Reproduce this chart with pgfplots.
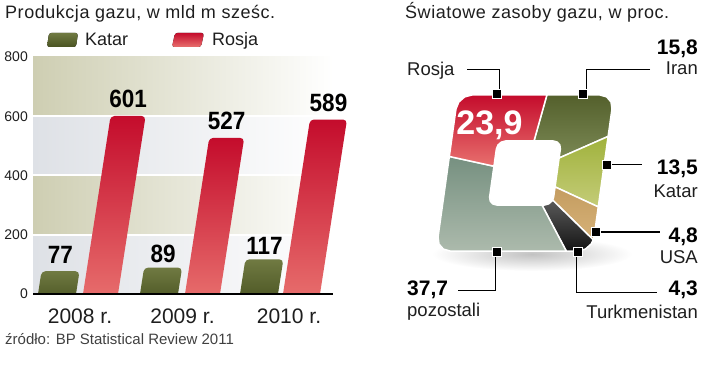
\documentclass[border=0pt]{standalone}
\usepackage{fontspec}
\setmainfont{Liberation Sans}
\newfontfamily\numf[FakeStretch=0.9]{Liberation Sans}
\usepackage{pgfplots}
\pgfplotsset{compat=1.18}
\definecolor{txt}{RGB}{30,30,30}
\definecolor{khaki}{RGB}{206,206,178}
\definecolor{greyb}{RGB}{222,225,230}
\definecolor{rosjaT}{RGB}{196,12,44}
\definecolor{rosjaB}{RGB}{232,112,110}
\definecolor{katarT}{RGB}{112,122,66}
\definecolor{katarB}{RGB}{74,84,34}
\definecolor{iranT}{RGB}{84,96,44}
\definecolor{iranB}{RGB}{122,136,84}
\definecolor{qatT}{RGB}{160,178,60}
\definecolor{qatB}{RGB}{196,204,120}
\definecolor{usaT}{RGB}{196,156,96}
\definecolor{usaB}{RGB}{214,178,120}
\definecolor{turT}{RGB}{90,90,90}
\definecolor{turB}{RGB}{20,20,20}
\definecolor{pozT}{RGB}{118,144,128}
\definecolor{pozB}{RGB}{172,186,172}
\begin{document}
\begin{tikzpicture}
\path (0pt,0pt) rectangle (720pt,-382pt);
% titles
\node[anchor=base west, inner sep=0pt, text=txt, font=\fontsize{18}{18}\selectfont\addfontfeature{LetterSpace=3}] at (5pt,-19pt) {Produkcja gazu, w mld m sześc.};
\node[anchor=base west, inner sep=0pt, text=txt, font=\fontsize{18}{18}\selectfont\addfontfeature{LetterSpace=3}] at (405pt,-19pt) {Światowe zasoby gazu, w proc.};
% legend
\fill[rounded corners=2.5pt, top color=katarT, bottom color=katarB] (47pt,-47pt) -- (49pt,-33pt) -- (78pt,-33pt) -- (76pt,-47pt) -- cycle;
\node[anchor=base west, inner sep=0pt, text=txt, font=\fontsize{18}{18}\selectfont] at (85pt,-46pt) {Katar};
\fill[rounded corners=2.5pt, top color=rosjaT, bottom color=rosjaB] (172pt,-47pt) -- (175pt,-33pt) -- (204pt,-33pt) -- (201pt,-47pt) -- cycle;
\node[anchor=base west, inner sep=0pt, text=txt, font=\fontsize{18}{18}\selectfont] at (212pt,-46pt) {Rosja};
% bar chart
\begin{axis}[
  at={(33pt,-294pt)}, anchor=south west,
  x=1pt, y=0.29625pt,
  xmin=0, xmax=320, ymin=0, ymax=800,
  axis line style={draw=none},
  major tick length=0pt,
  ytick={0,200,400,600,800},
  xtick={47,149.5,256},
  xticklabels={2008 r.,2009 r.,2010 r.},
  /pgf/number format/assume math mode=true,
  yticklabel style={font=\fontsize{14}{14}\selectfont, text=txt, anchor=east, inner sep=0pt, xshift=-5pt},
  xticklabel style={font=\fontsize{21}{21}\selectfont, text=txt, anchor=base, inner sep=0pt, yshift=-29pt},
  clip=true,
]
\fill[left color=khaki, right color=white] (axis cs:0,600) rectangle (axis cs:300,800);
\fill[left color=greyb, right color=white] (axis cs:0,400) rectangle (axis cs:300,600);
\fill[left color=khaki, right color=white] (axis cs:0,200) rectangle (axis cs:300,400);
\fill[left color=greyb, right color=white] (axis cs:0,0) rectangle (axis cs:300,200);
\draw[white, line width=2pt] (axis cs:0,200) -- (axis cs:300,200);
\draw[white, line width=2pt] (axis cs:0,400) -- (axis cs:300,400);
\draw[white, line width=2pt] (axis cs:0,600) -- (axis cs:300,600);
% Katar
\addplot[draw=none, rounded corners=4pt, top color=katarT, bottom color=katarB] coordinates {(3.62,-30) (8.53,77) (46.53,77) (41.62,-30)} -- cycle;
\addplot[draw=none, rounded corners=4pt, top color=katarT, bottom color=katarB] coordinates {(105.62,-30) (111.09,89) (149.09,89) (143.62,-30)} -- cycle;
\addplot[draw=none, rounded corners=4pt, top color=katarT, bottom color=katarB] coordinates {(205.62,-30) (212.37,117) (250.37,117) (243.62,-30)} -- cycle;
% Rosja
\addplot[draw=none, rounded corners=4pt, top color=rosjaT, bottom color=rosjaB] coordinates {(48.62,-30) (77.6,601) (112.6,601) (83.62,-30)} -- cycle;
\addplot[draw=none, rounded corners=4pt, top color=rosjaT, bottom color=rosjaB] coordinates {(150.62,-30) (176.2,527) (211.2,527) (185.62,-30)} -- cycle;
\addplot[draw=none, rounded corners=4pt, top color=rosjaT, bottom color=rosjaB] coordinates {(248.62,-30) (277.0,589) (314.0,589) (285.62,-30)} -- cycle;
\draw[black, line width=1.2pt] (axis cs:0,0) -- (axis cs:300,0);
\node[anchor=south, inner sep=0pt, yshift=7pt, text=black, font=\numf\bfseries\fontsize{25}{25}\selectfont] at (axis cs:27.5,77) {77};
\node[anchor=south, inner sep=0pt, yshift=5pt, text=black, font=\numf\bfseries\fontsize{25}{25}\selectfont] at (axis cs:130.1,89) {89};
\node[anchor=south, inner sep=0pt, yshift=5pt, text=black, font=\numf\bfseries\fontsize{25}{25}\selectfont] at (axis cs:231.4,117) {117};
\node[anchor=south, inner sep=0pt, yshift=8pt, text=black, font=\numf\bfseries\fontsize{25}{25}\selectfont] at (axis cs:95.1,601) {601};
\node[anchor=south, inner sep=0pt, yshift=8pt, text=black, font=\numf\bfseries\fontsize{25}{25}\selectfont] at (axis cs:193.7,527) {527};
\node[anchor=south, inner sep=0pt, yshift=8pt, text=black, font=\numf\bfseries\fontsize{25}{25}\selectfont] at (axis cs:295.5,589) {589};
\end{axis}
\node[anchor=base west, inner sep=0pt, text=black!75, font=\fontsize{15}{15}\selectfont] at (5pt,-344pt) {źródło: BP Statistical Review 2011};
% pie shadow
\shade[inner color=black!24, outer color=white] (532pt,-254pt) ellipse (100pt and 17pt);
% pie
\begin{axis}[
  at={(525pt,-173pt)}, anchor=center,
  x=1pt, y=1pt, xmin=-100, xmax=100, ymin=-100, ymax=100,
  hide axis, clip=false,
  sl/.style={draw=white, line width=1.5pt, line join=round},
]
% Iran 15,8
\addplot[sl, top color=iranT, bottom color=iranB] coordinates {(21.88,78) (74.92,78) (81.65,76.1) (86.04,71) (86.96,64) (83.12,36.57) (34.1,15.0) (35.36,24) (34.82,28) (32.33,30.9) (28.48,32) (8.98,32)} -- cycle;
% Katar 13,5
\addplot[sl, top color=qatT, bottom color=qatB] coordinates {(83.12,36.57) (73.26,-33.88) (30.05,-13.9) (34.1,15.0)} -- cycle;
% USA 4,8
\addplot[sl, top color=usaT, bottom color=usaB] coordinates {(73.26,-33.88) (69.04,-64) (68.27,-66.88) (27.62,-27.05) (28.64,-24) (30.05,-13.9)} -- cycle;
% Turkmenistan 4,3
\addplot[sl, top color=turT, bottom color=turB] coordinates {(68.27,-66.88) (66.16,-71) (60.35,-76.1) (53.08,-78) (41.22,-78) (16.91,-32) (19.52,-32) (23.67,-30.9) (26.98,-28) (27.62,-27.05)} -- cycle;
% pozostali 37,7
\addplot[sl, top color=pozT, bottom color=pozB] coordinates {(41.22,-78) (-74.92,-78) (-81.65,-76.1) (-86.04,-71) (-86.96,-64) (-75.69,16.53) (-31.05,6.78) (-35.36,-24) (-34.82,-28) (-32.33,-30.9) (-28.48,-32) (16.91,-32)} -- cycle;
% Rosja 23,9
\addplot[sl, top color=rosjaT, bottom color=rosjaB] coordinates {(-75.69,16.53) (-69.04,64) (-66.16,71) (-60.35,76.1) (-53.08,78) (21.88,78) (8.98,32) (-19.52,32) (-23.67,30.9) (-26.98,28) (-28.64,24) (-31.05,6.78)} -- cycle;
\end{axis}
% connectors
\draw[line width=1pt] (467pt,-70pt) -- (499pt,-70pt) -- (499pt,-90pt);
\draw[line width=1pt] (650pt,-70pt) -- (586pt,-70pt) -- (586pt,-90pt);
\draw[line width=1pt] (611pt,-165pt) -- (642pt,-165pt);
\draw[line width=1pt] (600pt,-232pt) -- (660pt,-232pt);
\draw[line width=1pt] (576pt,-256pt) -- (576pt,-292pt) -- (657pt,-292pt);
\draw[line width=1pt] (495pt,-256pt) -- (495pt,-290pt) -- (458pt,-290pt);
\foreach \p in {(497pt,-94pt),(583pt,-94pt),(607pt,-165pt),(596pt,-232pt),(578pt,-252pt),(497pt,-252pt)}
  \node[draw=white, fill=black, line width=1pt, minimum size=8.5pt, inner sep=0pt] at \p {};
% pie labels
\node[anchor=base west, inner sep=0pt, text=txt, font=\fontsize{18.5}{18.5}\selectfont] at (407pt,-76pt) {Rosja};
\node[anchor=base, inner sep=0pt, text=white, font=\bfseries\fontsize{34}{34}\selectfont] at (489.5pt,-135pt) {23,9};
\node[anchor=base east, inner sep=0pt, text=black, font=\bfseries\fontsize{21}{21}\selectfont] at (698pt,-55pt) {15,8};
\node[anchor=base east, inner sep=0pt, text=txt, font=\fontsize{18.5}{18.5}\selectfont] at (698pt,-75pt) {Iran};
\node[anchor=base east, inner sep=0pt, text=black, font=\bfseries\fontsize{21}{21}\selectfont] at (698pt,-175pt) {13,5};
\node[anchor=base east, inner sep=0pt, text=txt, font=\fontsize{18.5}{18.5}\selectfont] at (698pt,-197pt) {Katar};
\node[anchor=base east, inner sep=0pt, text=black, font=\bfseries\fontsize{21}{21}\selectfont] at (698pt,-242pt) {4,8};
\node[anchor=base east, inner sep=0pt, text=txt, font=\fontsize{18.5}{18.5}\selectfont] at (698pt,-263pt) {USA};
\node[anchor=base east, inner sep=0pt, text=black, font=\bfseries\fontsize{21}{21}\selectfont] at (698pt,-295pt) {4,3};
\node[anchor=base east, inner sep=0pt, text=txt, font=\fontsize{18.5}{18.5}\selectfont] at (698pt,-318pt) {Turkmenistan};
\node[anchor=base west, inner sep=0pt, text=black, font=\bfseries\fontsize{21}{21}\selectfont] at (407pt,-295pt) {37,7};
\node[anchor=base west, inner sep=0pt, text=txt, font=\fontsize{18.5}{18.5}\selectfont] at (407pt,-316pt) {pozostali};
\end{tikzpicture}
\end{document}
